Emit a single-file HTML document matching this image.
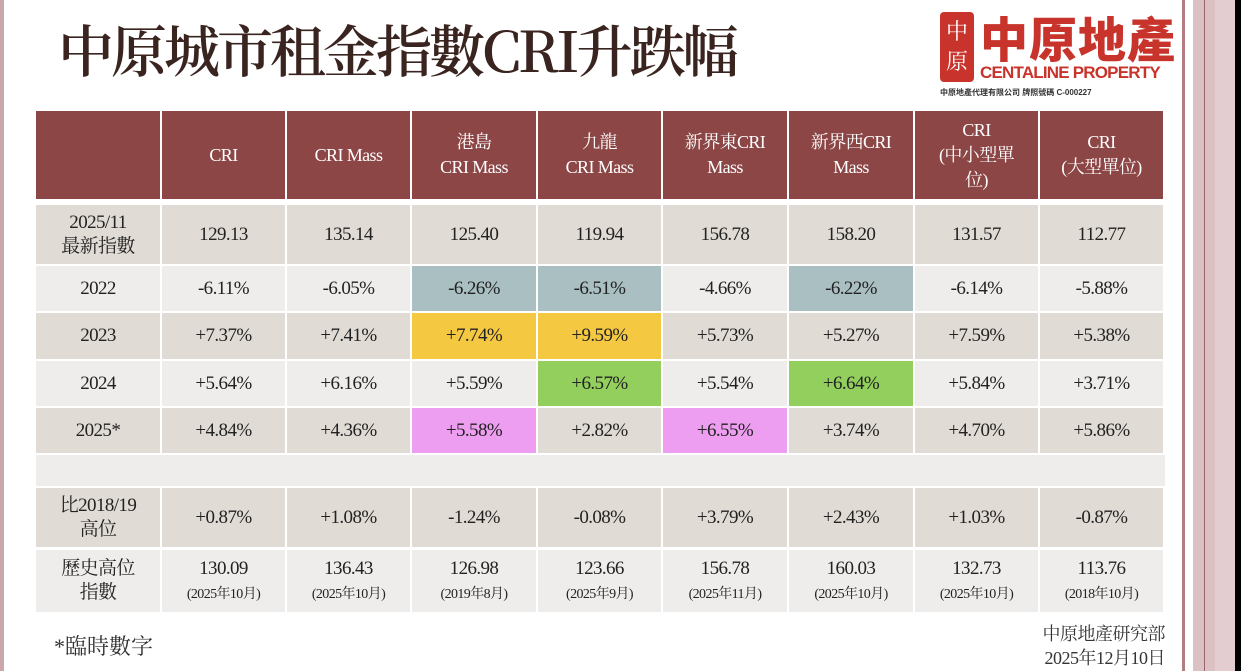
<!DOCTYPE html>
<html><head><meta charset="utf-8"><style>
*{margin:0;padding:0;box-sizing:border-box}
body{width:1241px;height:671px;background:#fff;position:relative;overflow:hidden;font-family:"Liberation Serif","Noto Serif CJK SC",serif}
.c{position:absolute;display:flex;align-items:center;justify-content:center;text-align:center;font-size:19px;color:#222;line-height:24px;letter-spacing:-0.6px}
.h{background:#8c4646;color:#fff;font-size:18px;line-height:25px}
.s{font-size:14px;line-height:18px}
</style></head><body>
<div style="position:absolute;left:0;top:0;width:4px;height:671px;background:#c9a7aa"></div>
<div style="position:absolute;left:1182px;top:0;width:3px;height:671px;background:#b27d80"></div>
<div style="position:absolute;left:1193px;top:0;width:42px;height:671px;background:#dcc1c4"></div>
<div style="position:absolute;left:1204px;top:0;width:1px;height:671px;background:#9b6468"></div>
<div style="position:absolute;left:1215px;top:0;width:20px;height:671px;background:#e3cdd0"></div>
<div style="position:absolute;left:1235px;top:0;width:6px;height:671px;background:#000"></div>

<div style="position:absolute;left:58px;top:14px;font-size:56px;font-weight:600;color:#3a2420;letter-spacing:-3px;font-family:'Noto Serif CJK SC',serif;line-height:70px;white-space:nowrap">中原城市租金指數CRI升跌幅</div>

<div style="position:absolute;left:940px;top:12px;width:34px;height:70px;background:#c8332b;border-radius:4px;color:#fff;font-size:22px;line-height:30px;text-align:center;font-family:'Noto Serif CJK SC',serif;padding-top:4px">中<br>原</div>
<div style="position:absolute;left:980px;top:8px;font-size:48px;font-weight:900;color:#c8332b;font-family:'Noto Sans CJK SC',sans-serif;line-height:56px;letter-spacing:1px">中原地產</div>
<div style="position:absolute;left:980px;top:63px;font-size:17px;font-weight:bold;color:#c8332b;font-family:'Liberation Sans',sans-serif;line-height:20px;letter-spacing:-0.8px">CENTALINE PROPERTY</div>
<div style="position:absolute;left:940px;top:87px;font-size:8px;color:#333;font-family:'Liberation Sans','Noto Sans CJK SC',sans-serif;font-weight:bold">中原地產代理有限公司 牌照號碼 C-000227</div>

<div id="t"></div>
<script>
const X=[36,162,287,412,538,663,789,915,1040,1165];
const R=[[111,199],[205,264],[266,311],[313,359],[361,406],[408,453],[455,486],[488,547],[550,612]];
const bg=['h','#e0dbd4','#efedeb','#e0dbd4','#efedeb','#e0dbd4','#efedeb','#e0dbd4','#efedeb'];
const D=[
['','CRI','CRI Mass','港島<br>CRI Mass','九龍<br>CRI Mass','新界東CRI<br>Mass','新界西CRI<br>Mass','CRI<br>(中小型單<br>位)','CRI<br>(大型單位)'],
['2025/11<br>最新指數','129.13','135.14','125.40','119.94','156.78','158.20','131.57','112.77'],
['2022','-6.11%','-6.05%','-6.26%','-6.51%','-4.66%','-6.22%','-6.14%','-5.88%'],
['2023','+7.37%','+7.41%','+7.74%','+9.59%','+5.73%','+5.27%','+7.59%','+5.38%'],
['2024','+5.64%','+6.16%','+5.59%','+6.57%','+5.54%','+6.64%','+5.84%','+3.71%'],
['2025*','+4.84%','+4.36%','+5.58%','+2.82%','+6.55%','+3.74%','+4.70%','+5.86%'],
['','','','','','','','',''],
['比2018/19<br>高位','+0.87%','+1.08%','-1.24%','-0.08%','+3.79%','+2.43%','+1.03%','-0.87%'],
['歷史高位<br>指數','130.09<br><span class="s">(2025年10月)</span>','136.43<br><span class="s">(2025年10月)</span>','126.98<br><span class="s">(2019年8月)</span>','123.66<br><span class="s">(2025年9月)</span>','156.78<br><span class="s">(2025年11月)</span>','160.03<br><span class="s">(2025年10月)</span>','132.73<br><span class="s">(2025年10月)</span>','113.76<br><span class="s">(2018年10月)</span>']];
const HL={'2,3':'#a9bfc1','2,4':'#a9bfc1','2,6':'#a9bfc1','3,3':'#f5c842','3,4':'#f5c842','4,4':'#93cf5d','4,6':'#93cf5d','5,3':'#ee9ef1','5,5':'#ee9ef1'};
let h='<div style="position:absolute;left:36px;top:455px;width:1129px;height:31px;background:#efedeb"></div>';
for(let r=0;r<9;r++){if(r==6)continue;for(let c=0;c<9;c++){
 let b=HL[r+','+c]||bg[r];
 let cls='c'+(r==0?' h':'');
 let st=r==0?'':'background:'+b+';';
 h+=`<div class="${cls}" style="${st}left:${X[c]}px;top:${R[r][0]}px;width:${X[c+1]-X[c]-2}px;height:${R[r][1]-R[r][0]}px"><div>${D[r][c]}</div></div>`;}}
document.getElementById('t').outerHTML=h;
</script>
<div style="position:absolute;left:54px;top:630px;font-size:22px;color:#333;font-family:'Liberation Serif','Noto Serif CJK SC',serif">*臨時數字</div>
<div style="position:absolute;left:1010px;top:622px;width:155px;text-align:right;font-size:18px;line-height:24px;color:#333;font-family:'Liberation Serif','Noto Serif CJK SC',serif;letter-spacing:-0.5px">中原地產研究部<br>2025年12月10日</div>
</body></html>
